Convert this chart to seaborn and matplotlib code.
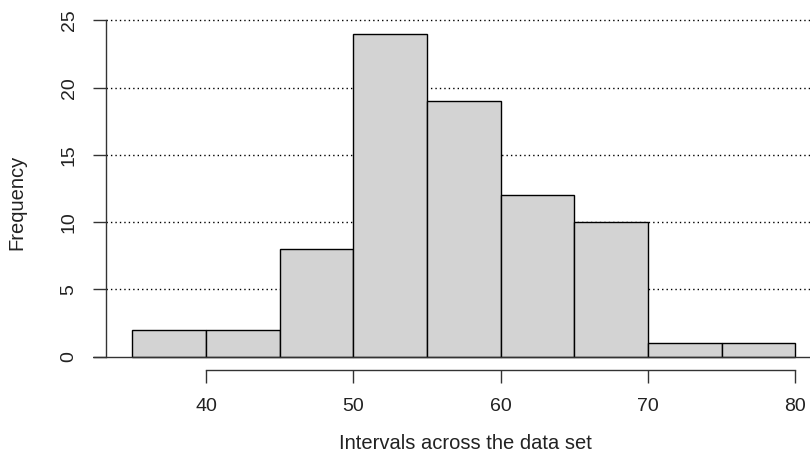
import numpy as np
import pandas as pd
import matplotlib
matplotlib.use('Agg')
import matplotlib.pyplot as plt
import seaborn as sns

# histogram bins (interval edges) and counts
bin_edges = [35, 40, 45, 50, 55, 60, 65, 70, 75, 80]
counts = [2, 2, 8, 24, 19, 12, 10, 1, 1]
x_ticks = [40, 50, 60, 70, 80]
y_ticks = [0, 5, 10, 15, 20, 25]

df = pd.DataFrame({
    'mid': [(a + b) / 2 for a, b in zip(bin_edges[:-1], bin_edges[1:])],
    'count': counts,
})

sns.set_style('white')
plt.rcParams['font.family'] = ['Liberation Sans', 'DejaVu Sans']

fig = plt.figure(figsize=(8.1, 4.55), dpi=100)
ax = fig.add_axes([93 / 810, 0.1422, 1 - 93 / 810, 0.970 - 0.1422])

sns.histplot(data=df, x='mid', weights='count', bins=bin_edges, ax=ax,
             color='#d3d3d3', edgecolor='black', linewidth=1, alpha=1, zorder=3)

ax.set_xlim(32.325, 81.0)
ax.set_ylim(-2.5, 25.5)

# axis x-position of the y-axis line
y_axis_x = 33.21
ax.hlines([5, 10, 15, 20, 25], y_axis_x, 81.0, colors='black', linewidth=1,
          linestyles=(0, (1, 2.2)), zorder=1)
ax.axhline(0, color='#333333', linewidth=1, zorder=4)

for s in ['top', 'right']:
    ax.spines[s].set_visible(False)
ax.spines['left'].set_position(('data', y_axis_x))
ax.spines['left'].set_bounds(0, 25)
ax.spines['bottom'].set_position(('data', -1.0))
ax.spines['bottom'].set_bounds(40, 80)
for s in ['left', 'bottom']:
    ax.spines[s].set_color('#333333')
    ax.spines[s].set_linewidth(1)

ax.set_xticks(x_ticks)
ax.set_yticks(y_ticks)
ax.tick_params(axis='both', direction='out', length=9.4, width=1, color='#333333',
               labelsize=14, labelcolor='#222222', bottom=True, left=True)
ax.tick_params(axis='x', pad=11)
ax.tick_params(axis='y', pad=11)
for lab in ax.get_yticklabels():
    lab.set_rotation(90)
    lab.set_va('center')

ax.set_xlabel('Intervals across the data set', fontsize=14.5, color='#222222', va='center')
ax.set_ylabel('Frequency', fontsize=14.5, color='#222222', va='center')
ax.xaxis.set_label_coords(0.519, -0.142)
ax.yaxis.set_label_coords(-0.106, 0.5)

plt.savefig('out.png', dpi=100)
